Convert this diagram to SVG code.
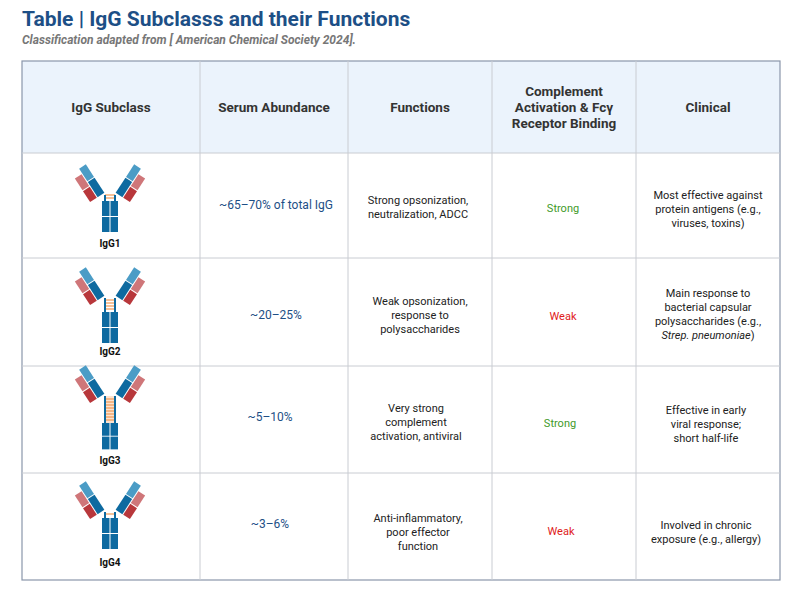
<svg xmlns="http://www.w3.org/2000/svg" width="808" height="595" viewBox="0 0 808 595">
<style>
text{font-family:Roboto,"Liberation Sans",sans-serif}
.h{font-size:13.5px;font-weight:bold;fill:#333;text-anchor:middle}
.c{font-size:11px;fill:#222;text-anchor:middle}
.ab{font-size:12px;fill:#1d4f86;text-anchor:middle}
.lb{font-size:10px;font-weight:bold;fill:#111;text-anchor:middle}
.g{font-size:11px;fill:#3f9a2a;text-anchor:middle}
.r{font-size:11px;fill:#e0201a;text-anchor:middle}
.grid{stroke:#c9ccd2;stroke-width:1}
.hb{fill:#0e6aa0}.hl{fill:#4b9cc6}.lr{fill:#b8373b}.ll{fill:#cf7679}
.hinge{stroke:#0e6aa0;stroke-width:2;fill:none}
.ss{stroke:#f0a060;stroke-width:1.3}
</style>
<defs>
<g id="arm">
<rect class="hb" x="-4" y="-18" width="8" height="18"/>
<rect class="hl" x="-4" y="-34" width="8" height="15"/>
<rect class="lr" x="-13" y="-13" width="8" height="13"/>
<rect class="ll" x="-13" y="-28" width="8" height="14"/>
</g>
<g id="stem">
<rect class="hb" x="-8" y="0" width="7.5" height="15"/>
<rect class="hb" x="0.5" y="0" width="7.5" height="15"/>
<rect class="hb" x="-8" y="16" width="7.5" height="15"/>
<rect class="hb" x="0.5" y="16" width="7.5" height="15"/>
</g>
</defs>
<text x="22" y="26" font-size="21" font-weight="bold" fill="#1d4f86">Table | IgG Subclasss and their Functions</text>
<text x="22" y="44" font-size="12" font-weight="bold" font-style="italic" fill="#777">Classification adapted from [ American Chemical Society 2024].</text>
<g id="table">
<rect x="22" y="61" width="758" height="92" fill="#ebf3fc"/>
<rect x="22" y="61" width="758" height="519" fill="none" stroke="#8a97ab" stroke-width="1.2"/>
<line class="grid" x1="22" y1="153" x2="780" y2="153"/>
<line class="grid" x1="22" y1="258" x2="780" y2="258"/>
<line class="grid" x1="22" y1="366" x2="780" y2="366"/>
<line class="grid" x1="22" y1="473" x2="780" y2="473"/>
<line class="grid" x1="200" y1="61" x2="200" y2="580"/>
<line class="grid" x1="348" y1="61" x2="348" y2="580"/>
<line class="grid" x1="492" y1="61" x2="492" y2="580"/>
<line class="grid" x1="636" y1="61" x2="636" y2="580"/>
</g>
<g id="header">
<text class="h" x="111" y="112">IgG Subclass</text>
<text class="h" x="274" y="112">Serum Abundance</text>
<text class="h" x="420" y="112">Functions</text>
<text class="h" x="564" y="96">Complement</text>
<text class="h" x="564" y="112">Activation &amp; Fcγ</text>
<text class="h" x="564" y="128">Receptor Binding</text>
<text class="h" x="708" y="112">Clinical</text>
</g>
<g id="igg1">
<g transform="translate(110,201)">
<use href="#stem"/>
<g transform="translate(-9,-6) rotate(-33)"><use href="#arm"/></g>
<g transform="translate(9,-6) scale(-1,1) rotate(-33)"><use href="#arm"/></g>
<line class="ss" x1="-5" y1="-6" x2="5" y2="-6"/><line class="ss" x1="-5" y1="-3" x2="5" y2="-3"/>
<path class="hinge" d="M-5,0V-6M5,0V-6"/>
</g>
<text class="lb" x="110" y="247">IgG1</text>
<text class="ab" x="276" y="209">~65–70% of total IgG</text>
<text class="c" x="418" y="204">Strong opsonization,</text>
<text class="c" x="418" y="218">neutralization, ADCC</text>
<text class="g" x="563" y="212">Strong</text>
<text class="c" x="708" y="199">Most effective against</text>
<text class="c" x="708" y="213">protein antigens (e.g.,</text>
<text class="c" x="708" y="227">viruses, toxins)</text>
</g>
<g id="igg2">
<g transform="translate(110,312)">
<use href="#stem"/>
<g transform="translate(-9,-14) rotate(-33)"><use href="#arm"/></g>
<g transform="translate(9,-14) scale(-1,1) rotate(-33)"><use href="#arm"/></g>
<line class="ss" x1="-5" y1="-12" x2="5" y2="-12"/><line class="ss" x1="-5" y1="-9" x2="5" y2="-9"/><line class="ss" x1="-5" y1="-6" x2="5" y2="-6"/><line class="ss" x1="-5" y1="-3" x2="5" y2="-3"/>
<path class="hinge" d="M-5,0V-14M5,0V-14"/>
</g>
<text class="lb" x="110" y="355">IgG2</text>
<text class="ab" x="276" y="319">~20–25%</text>
<text class="c" x="420" y="305">Weak opsonization,</text>
<text class="c" x="420" y="319">response to</text>
<text class="c" x="420" y="333">polysaccharides</text>
<text class="r" x="563" y="320">Weak</text>
<text class="c" x="708" y="297">Main response to</text>
<text class="c" x="708" y="311">bacterial capsular</text>
<text class="c" x="708" y="325">polysaccharides (e.g.,</text>
<text class="c" x="708" y="339"><tspan font-style="italic">Strep. pneumoniae</tspan>)</text>
</g>
<g id="igg3">
<g transform="translate(110,423)">
<use href="#stem" transform="scale(1,0.85)"/>
<g transform="translate(-9,-27) rotate(-33)"><use href="#arm"/></g>
<g transform="translate(9,-27) scale(-1,1) rotate(-33)"><use href="#arm"/></g>
<rect x="-5" y="-27" width="10" height="27" fill="#fde3cf"/>
<g class="ss"><line x1="-5" y1="-24" x2="5" y2="-24"/><line x1="-5" y1="-21" x2="5" y2="-21"/><line x1="-5" y1="-18" x2="5" y2="-18"/><line x1="-5" y1="-15" x2="5" y2="-15"/><line x1="-5" y1="-12" x2="5" y2="-12"/><line x1="-5" y1="-9" x2="5" y2="-9"/><line x1="-5" y1="-6" x2="5" y2="-6"/><line x1="-5" y1="-3" x2="5" y2="-3"/></g>
<path class="hinge" d="M-5,0V-27M5,0V-27"/>
</g>
<text class="lb" x="110" y="464">IgG3</text>
<text class="ab" x="270" y="421">~5–10%</text>
<text class="c" x="416" y="412">Very strong</text>
<text class="c" x="416" y="426">complement</text>
<text class="c" x="416" y="440">activation, antiviral</text>
<text class="g" x="560" y="427">Strong</text>
<text class="c" x="706" y="414">Effective in early</text>
<text class="c" x="706" y="428">viral response;</text>
<text class="c" x="706" y="442">short half-life</text>
</g>
<g id="igg4">
<g transform="translate(110,518)">
<use href="#stem"/>
<g transform="translate(-9,-6) rotate(-33)"><use href="#arm"/></g>
<g transform="translate(9,-6) scale(-1,1) rotate(-33)"><use href="#arm"/></g>
<line class="ss" x1="-5" y1="-4" x2="5" y2="-4"/>
<path class="hinge" d="M-5,0V-6M5,0V-6"/>
</g>
<text class="lb" x="110" y="566">IgG4</text>
<text class="ab" x="270" y="528">~3–6%</text>
<text class="c" x="418" y="522">Anti-inflammatory,</text>
<text class="c" x="418" y="536">poor effector</text>
<text class="c" x="418" y="550">function</text>
<text class="r" x="561" y="535">Weak</text>
<text class="c" x="706" y="529">Involved in chronic</text>
<text class="c" x="706" y="543">exposure (e.g., allergy)</text>
</g>
</svg>
